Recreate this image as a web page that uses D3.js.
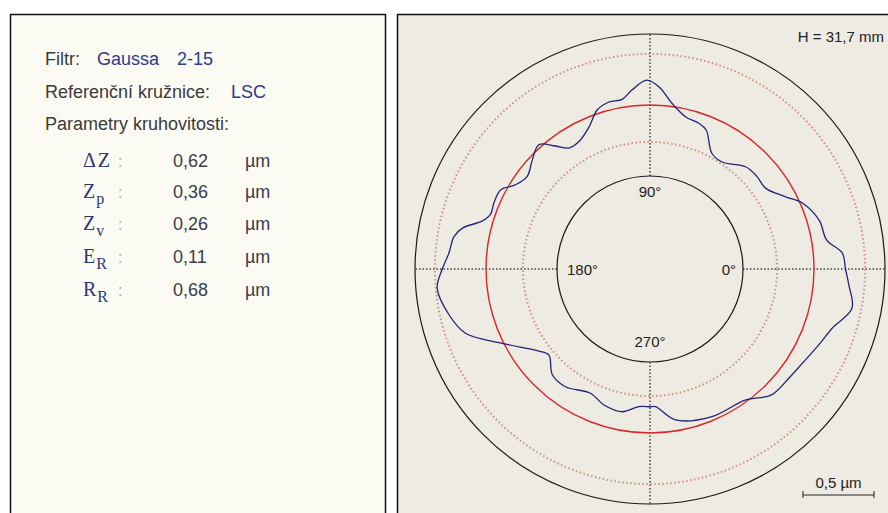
<!DOCTYPE html>
<html>
<head>
<meta charset="utf-8">
<script src="https://cdnjs.cloudflare.com/ajax/libs/d3/7.8.5/d3.min.js"></script>
<style>
    body { margin: 0; background: #fff; }
    svg text { font-family: Arial, "Liberation Sans", sans-serif; }
</style>
</head>
<body>
<div id="chart"></div>
<script>
// info lines in the left panel
var infoLabels = ["Filtr:", "Referenční kružnice:", "Parametry kruhovitosti:"];
var infoValues = [["Gaussa", "2-15"], ["LSC"], []];

// roundness parameters
var paramSymbols = ["ΔZ", "Z", "Z", "E", "R"];
var paramSubs = ["", "p", "v", "R", "R"];
var paramValues = ["0,62", "0,36", "0,26", "0,11", "0,68"];
var paramUnit = "µm";

// peak / valley of profile vs. LSC circle (µm)
var peakHeight = 0.36;
var valleyDepth = 0.26;

// roundness profile: angle (deg) and deviation from LSC circle (µm)
var profileAngles = [0, 4.7, 9.3, 16, 23.4, 28, 35, 40.8, 46.9, 56, 61.8, 68, 71.5, 76.9, 82.4, 87.2,
    91, 95.7, 99.3, 103.8, 108.4, 113, 119, 123.8, 127.5, 131.8, 137, 143, 148, 152, 157, 161, 164,
    167.7, 170.6, 175.5, 180, 185.2, 192.9, 199.2, 206.7, 216.5, 220.4, 227.3, 234.3, 244.4, 251.3,
    259, 265.4, 270, 272.3, 279.6, 292.8, 306, 314, 321.8, 328, 335.8, 342, 349, 355.4];
var profileDeviation = [0.222, 0.204, 0.106, 0.085, 0.014, -0.073, -0.162, -0.159, -0.169, -0.246,
    -0.232, -0.099, -0.073, -0.054, 0.021, 0.130,
    0.176, 0.113, 0.056, 0.056, 0.025, -0.063, -0.127, -0.130, -0.063, 0.019, -0.023, -0.072, -0.037,
    0.035, 0.039, 0.032, 0.073,
    0.197, 0.244, 0.266, 0.308, 0.350, 0.296, 0.221, 0.010, -0.183, -0.220, -0.141, -0.134, -0.185,
    -0.144, -0.131, -0.183, -0.185, -0.185, -0.077, -0.028, -0.014, 0.077, 0.089, 0.106, 0.148, 0.194,
    0.294, 0.250];

var angleLabels = ["0°", "90°", "180°", "270°"];
var heightLabel = "H = 31,7 mm";
var scaleBarValue = 0.5;
var scaleBarLabel = "0,5 µm";

var width = 888, height = 513;

var svg = d3.select("#chart")
    .append("svg")
    .attr("width", width)
    .attr("height", height);

//----- left panel
svg.append("rect")
    .attr("x", 10.5).attr("y", 14.5)
    .attr("width", 375).attr("height", 520)
    .attr("fill", "#fbfbf3")
    .attr("stroke", "#111")
    .attr("stroke-width", 1.5);

var infoY = [65, 98, 130];
var valueX = [[97, 177], [231], []];
infoLabels.forEach(function(t, i) {
    svg.append("text")
        .attr("x", 45).attr("y", infoY[i])
        .attr("font-size", 18)
        .attr("fill", "#3a3a3a")
        .text(t);
    infoValues[i].forEach(function(v, j) {
        svg.append("text")
            .attr("x", valueX[i][j]).attr("y", infoY[i])
            .attr("font-size", 18)
            .attr("fill", "#2b3a8f")
            .text(v);
    });
});

var rowY = [167, 198, 230, 263, 296];
paramSymbols.forEach(function(s, i) {
    var t = svg.append("text")
        .attr("x", 83).attr("y", rowY[i])
        .attr("font-size", 20)
        .attr("fill", "#2d3775")
        .style("font-family", "'Liberation Serif', 'DejaVu Serif', serif")
        .style("letter-spacing", "2px")
        .text(s);
    if (paramSubs[i]) {
        t.append("tspan")
            .attr("dx", -1)
            .attr("dy", 6)
            .attr("font-size", 16)
            .style("letter-spacing", "0px")
            .text(paramSubs[i]);
    }
    svg.append("text")
        .attr("x", 118).attr("y", rowY[i])
        .attr("font-size", 16)
        .attr("fill", "#aaa")
        .text(":");
    svg.append("text")
        .attr("x", 173).attr("y", rowY[i])
        .attr("font-size", 18)
        .attr("fill", "#3c3c4c")
        .text(paramValues[i]);
    svg.append("text")
        .attr("x", 245).attr("y", rowY[i])
        .attr("font-size", 18)
        .attr("fill", "#3c3c4c")
        .text(paramUnit);
});

//----- right panel (polar plot)
svg.append("rect")
    .attr("x", 397.5).attr("y", 14.5)
    .attr("width", 500).attr("height", 520)
    .attr("fill", "#eeebe3")
    .attr("stroke", "#111")
    .attr("stroke-width", 1.5);

var cx = 650, cy = 269;
var g = svg.append("g").attr("transform", "translate(" + cx + "," + cy + ")");

// radius from deviation in µm, LSC circle sits at 0
var r = d3.scaleLinear().domain([-0.5, 0.5]).range([93, 235]);

// dotted cross lines between inner and outer circle
var crossDirs = [[1, 0], [0, -1], [-1, 0], [0, 1]];
crossDirs.forEach(function(d) {
    g.append("line")
        .attr("x1", d[0] * r(-0.5)).attr("y1", d[1] * r(-0.5))
        .attr("x2", d[0] * r(0.5)).attr("y2", d[1] * r(0.5))
        .attr("stroke", "#444")
        .attr("stroke-width", 1.5)
        .attr("stroke-dasharray", "1.5,2");
});

// peak / valley dotted circles
[peakHeight, -valleyDepth].forEach(function(v) {
    g.append("circle")
        .attr("r", r(v))
        .attr("fill", "none")
        .attr("stroke", "#cf9080")
        .attr("stroke-width", 2)
        .attr("stroke-dasharray", "1.5,2.5");
});

// outer / inner limit circles
[-0.5, 0.5].forEach(function(v) {
    g.append("circle")
        .attr("r", r(v))
        .attr("fill", "none")
        .attr("stroke", "#1a1a1a")
        .attr("stroke-width", 1.2);
});

// LSC reference circle
g.append("circle")
    .attr("r", r(0))
    .attr("fill", "none")
    .attr("stroke", "#d42a2a")
    .attr("stroke-width", 1.4);

// roundness profile
var profile = profileAngles.map(function(a, i) {
    return [a, profileDeviation[i]];
});
var line = d3.lineRadial()
    .angle(function(d) { return (90 - d[0]) * Math.PI / 180; })
    .radius(function(d) { return r(d[1]); })
    .curve(d3.curveCatmullRomClosed.alpha(0.5));

g.append("path")
    .datum(profile)
    .attr("d", line)
    .attr("fill", "none")
    .attr("stroke", "#23237a")
    .attr("stroke-width", 1.3);

// angle labels inside inner circle
var labelPos = [
    {x: 86, y: 6, anchor: "end"},
    {x: 0, y: -72, anchor: "middle"},
    {x: -83, y: 6, anchor: "start"},
    {x: 0, y: 78, anchor: "middle"}
];
angleLabels.forEach(function(t, i) {
    g.append("text")
        .attr("x", labelPos[i].x).attr("y", labelPos[i].y)
        .attr("text-anchor", labelPos[i].anchor)
        .attr("font-size", 15)
        .attr("fill", "#222")
        .text(t);
});

svg.append("text")
    .attr("x", 884).attr("y", 42)
    .attr("text-anchor", "end")
    .attr("font-size", 15)
    .attr("fill", "#222")
    .text(heightLabel);

// scale bar
var barLen = r(scaleBarValue) - r(0);
var bx = 874 - barLen, by = 495;
var bar = svg.append("g").attr("stroke", "#222").attr("stroke-width", 1);
bar.append("line").attr("x1", bx).attr("x2", bx + barLen).attr("y1", by).attr("y2", by);
bar.append("line").attr("x1", bx).attr("x2", bx).attr("y1", by - 4).attr("y2", by + 3);
bar.append("line").attr("x1", bx + barLen).attr("x2", bx + barLen).attr("y1", by - 4).attr("y2", by + 3);
svg.append("text")
    .attr("x", bx + barLen / 2).attr("y", 488)
    .attr("text-anchor", "middle")
    .attr("font-size", 15)
    .attr("fill", "#222")
    .text(scaleBarLabel);
</script>
</body>
</html>
